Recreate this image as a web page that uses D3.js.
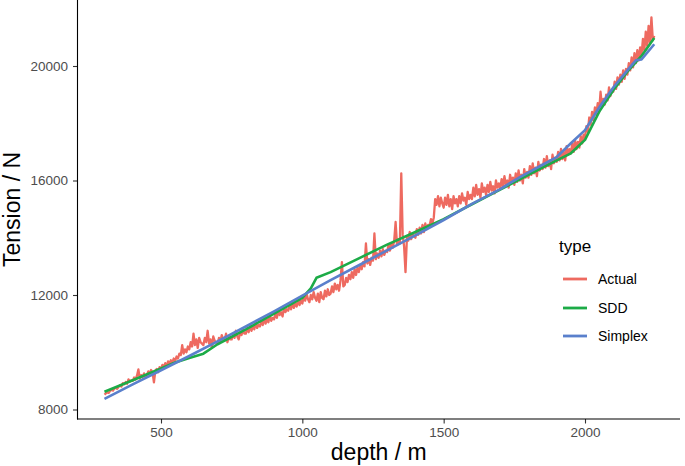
<!DOCTYPE html>
<html><head><meta charset="utf-8">
<script src="https://cdn.jsdelivr.net/npm/d3@7"></script>
<style>body{margin:0;background:#fff}svg{display:block;font-family:"Liberation Sans",Arial,sans-serif}</style>
</head><body><svg id="c" width="685" height="466"></svg>
<script>
// ---- data ----
const seriesNames = ["Actual", "SDD", "Simplex"];
const seriesColors = ["#EE6A60", "#1CAB47", "#5A80CC"];
const xTicks = [500, 1000, 1500, 2000];
const yTicks = [8000, 12000, 16000, 20000];

const actualDepth = [
 300,305,310,315,320,325,330,335,340,345, 350,355,360,365,370,375,380,385,390,395,
 400,405,410,415,420,425,430,435,440,445, 450,455,460,465,470,475,480,485,490,495,
 500,505,510,515,520,525,530,535,540,545, 550,555,560,565,570,575,580,585,590,595,
 600,605,610,615,620,625,630,635,640,645, 650,655,660,665,670,675,680,685,690,695,
 700,705,710,715,720,725,730,735,740,745, 750,755,760,765,770,775,780,785,790,795,
 800,805,810,815,820,825,830,835,840,845, 850,855,860,865,870,875,880,885,890,895,
 900,905,910,915,920,925,930,935,940,945, 950,955,960,965,970,975,980,985,990,995,
 1000,1005,1010,1015,1020,1025,1030,1035,1040,1045, 1050,1055,1060,1065,1070,1075,1080,1085,1090,1095,
 1100,1105,1110,1115,1120,1125,1130,1135,1140,1145, 1150,1155,1160,1165,1170,1175,1180,1185,1190,1195,
 1200,1205,1210,1215,1220,1225,1230,1235,1240,1245, 1250,1255,1260,1265,1270,1275,1280,1285,1290,1295,
 1300,1305,1310,1315,1320,1325,1330,1335,1340,1345, 1350,1355,1360,1365,1370,1375,1380,1385,1390,1395,
 1400,1405,1410,1415,1420,1425,1430,1435,1440,1445, 1450,1455,1460,1465,1470,1475,1480,1485,1490,1495,
 1500,1505,1510,1515,1520,1525,1530,1535,1540,1545, 1550,1555,1560,1565,1570,1575,1580,1585,1590,1595,
 1600,1605,1610,1615,1620,1625,1630,1635,1640,1645, 1650,1655,1660,1665,1670,1675,1680,1685,1690,1695,
 1700,1705,1710,1715,1720,1725,1730,1735,1740,1745, 1750,1755,1760,1765,1770,1775,1780,1785,1790,1795,
 1800,1805,1810,1815,1820,1825,1830,1835,1840,1845, 1850,1855,1860,1865,1870,1875,1880,1885,1890,1895,
 1900,1905,1910,1915,1920,1925,1930,1935,1940,1945, 1950,1955,1960,1965,1970,1975,1980,1985,1990,1995,
 2000,2005,2010,2015,2020,2025,2030,2035,2040,2045, 2050,2055,2060,2065,2070,2075,2080,2085,2090,2095,
 2100,2105,2110,2115,2120,2125,2130,2135,2140,2145, 2150,2155,2160,2165,2170,2175,2180,2185,2190,2195,
 2200,2205,2210,2215,2220,2225,2230,2235,2240,2245];
const actualTension = [
 8520,8560,8600,8580,8650,8690,8660,8730,8760,8720, 8790,8850,8800,8920,8880,8960,8900,9050,8980,9020,
 9000,9120,9050,9180,9400,9080,9200,9120,9260,9150, 9200,9330,9250,9380,9300,8950,9350,9420,9300,9480,
 9420,9560,9480,9620,9500,9680,9600,9720,9640,9780, 9700,9850,9780,9950,9900,10250,9950,10100,10000,10200,
 10100,10350,10200,10650,10250,10450,10150,10500,10350,10300, 10250,10500,10350,10750,10300,10450,10150,10550,10400,10350,
 10300,10500,10350,10600,10450,10400,10650,10350,10550,10450, 10450,10650,10500,10750,10550,10450,10700,10600,10800,10650,
 10650,10850,10700,10950,10750,10900,10800,11050,10850,10950, 10900,11100,10950,11200,11000,11150,11050,11300,11100,11200,
 11150,11350,11200,11450,11300,11400,11250,11550,11400,11500, 11450,11650,11500,11750,11550,11700,11600,11850,11650,11800,
 11700,11950,11800,12050,11850,11750,12000,11850,12100,11900, 11800,12050,11750,12100,11900,11850,12150,11950,12200,12000,
 12050,12300,12100,12400,12200,12350,12150,12500,13150,12300, 12350,12600,12450,12700,12550,12800,12600,12900,12700,12950,
 12800,13050,12900,13150,13000,13800,13100,13250,13050,13300, 13200,14150,13250,13450,13300,13550,13350,13600,13400,13550,
 13500,13750,13550,13800,13650,13900,14550,13750,13950,13800, 16250,14100,13700,12800,14000,13900,14200,13950,14150,14050,
 14000,14300,14100,14350,14150,14450,14200,14500,14300,14450, 14400,14650,14500,14700,15350,15150,15450,15100,15400,15200,
 15050,15400,15150,15500,15100,15350,15000,15450,15200,15350, 15100,15450,15200,15550,15300,15400,15150,15600,15350,15500,
 15350,15750,15450,15850,15500,15700,15400,15900,15600,15750, 15500,15850,15600,15950,15650,15800,15550,16000,15750,15900,
 15700,16050,15800,16150,15850,16000,15750,16200,15950,16100, 15850,16250,15950,16350,16000,16200,15900,16400,16100,16300,
 16100,16500,16200,16600,16250,16450,16150,16650,16350,16550, 16400,16750,16450,16850,16500,16700,16400,16900,16600,16800,
 16650,17000,16700,17100,16750,17000,16700,17200,16900,17100, 16950,17300,17000,17400,17100,17350,17150,17550,17300,17600,
 17500,17900,17700,18200,17950,18400,18100,18550,18300,18700, 18400,19100,18600,18850,18650,19000,18800,19250,18950,19150,
 19100,19450,19200,19600,19350,19700,19450,19850,19550,19900, 19700,20100,19850,20300,19950,20450,20100,20550,20200,20650,
 20400,20950,20550,21200,20700,21400,20800,21700,20900,21050];

const sddDepth = [300,400,500,550,600,650,700,800,900,1000,1030,1050,1100,1200,1300,1400,1500,1600,1700,1800,1900,1950,2000,2050,2100,2150,2200,2245];
const sddTension = [8620,9020,9430,9640,9800,9950,10280,10800,11350,11900,12230,12600,12800,13280,13760,14200,14650,15170,15680,16200,16700,16950,17420,18400,19150,19800,20350,20980];

const simplexDepth = [300,400,500,600,700,800,900,1000,1100,1200,1300,1400,1500,1600,1700,1770,1850,1900,1950,2000,2050,2100,2160,2180,2200,2245];
const simplexTension = [8370,8880,9370,9870,10380,10900,11430,11980,12520,13040,13560,14080,14620,15180,15700,16120,16550,16820,17300,17760,18550,19250,19970,20200,20230,20760];

// ---- chart ----
const svg = d3.select("#c");
const pL = 77.5, pR = 680, pT = 0, pB = 419;
const x = d3.scaleLinear().domain([500, 2000]).range([161, 585]);
const y = d3.scaleLinear().domain([8000, 20000]).range([409.5, 66]);

svg.append("defs").append("clipPath").attr("id","clip")
  .append("rect").attr("x",pL).attr("y",pT).attr("width",pR-pL).attr("height",pB-pT);

const line = d3.line().x(d => x(d[0])).y(d => y(d[1]));
const series = [
  d3.zip(actualDepth, actualTension),
  d3.zip(sddDepth, sddTension),
  d3.zip(simplexDepth, simplexTension)
];
const g = svg.append("g").attr("clip-path","url(#clip)");
series.forEach((s, i) => {
  g.append("path").datum(s).attr("d", line)
    .attr("fill","none").attr("stroke", seriesColors[i])
    .attr("stroke-width", i === 0 ? 2.3 : 2.6)
    .attr("stroke-linejoin","round");
});

// axes
const fmt = d3.format("d");
const xa = svg.append("g").attr("transform",`translate(0,${pB})`)
  .call(d3.axisBottom(x).tickValues(xTicks).tickFormat(fmt).tickSize(4.5).tickPadding(4).tickSizeOuter(0));
const ya = svg.append("g").attr("transform",`translate(${pL},0)`)
  .call(d3.axisLeft(y).tickValues(yTicks).tickFormat(fmt).tickSize(4.5).tickPadding(5).tickSizeOuter(0));
[xa, ya].forEach(a => {
  a.select(".domain").remove();
  a.selectAll(".tick line").attr("stroke","#333").attr("stroke-width",1.1);
  a.selectAll(".tick text").attr("fill","#4D4D4D").style("font-size","13.5px")
    .style("font-family","'Liberation Sans',Arial,sans-serif");
});
svg.append("line").attr("x1",pL).attr("x2",pL).attr("y1",pT).attr("y2",pB+0.5)
  .attr("stroke","#000").attr("stroke-width",1.1);
svg.append("line").attr("x1",pL-0.5).attr("x2",pR).attr("y1",pB).attr("y2",pB)
  .attr("stroke","#000").attr("stroke-width",1.1);

// titles
svg.append("text").attr("x",(pL+pR)/2).attr("y",460).attr("text-anchor","middle")
  .style("font-size","23px").attr("fill","#000").text("depth / m");
svg.append("text").attr("transform",`translate(20,${(pT+pB)/2}) rotate(-90)`)
  .attr("text-anchor","middle").style("font-size","23px").attr("fill","#000").text("Tension / N");

// legend
const lg = svg.append("g");
lg.append("text").attr("x",559).attr("y",252).style("font-size","17px").attr("fill","#000").text("type");
const ly = [279, 308, 336];
seriesNames.forEach((n, i) => {
  lg.append("line").attr("x1",563).attr("x2",587).attr("y1",ly[i]).attr("y2",ly[i])
    .attr("stroke",seriesColors[i]).attr("stroke-width",2.8);
  lg.append("text").attr("x",598).attr("y",ly[i]+5).style("font-size","14px").attr("fill","#000").text(n);
});
</script></body></html>
